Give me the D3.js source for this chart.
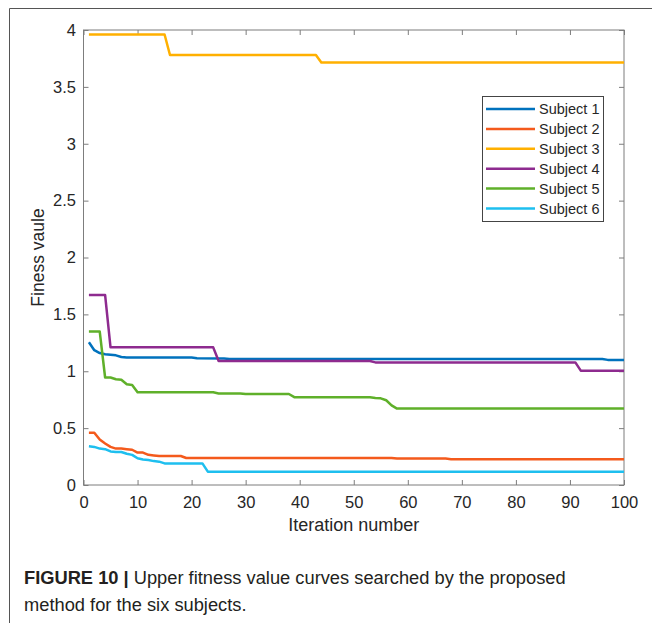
<!DOCTYPE html>
<html>
<head>
<meta charset="utf-8">
<script src="https://cdn.jsdelivr.net/npm/d3@7"></script>
<style>
  html, body { margin: 0; padding: 0; background: #fff; }
  svg { display: block; font-family: "Liberation Sans", Arial, Helvetica, sans-serif; }
</style>
</head>
<body>
<svg id="chart" width="652" height="623"></svg>
<script>
// Upper fitness value per iteration; each list holds [iteration, value] points
// where the curve changes (flat between consecutive points).
const subjectNames = ["Subject 1", "Subject 2", "Subject 3", "Subject 4", "Subject 5", "Subject 6"];
const subjectColors = ["#0072BD", "#F45A1C", "#FFB000", "#8E2B8F", "#5FB02A", "#1EBFEF"];

const subject1 = [[1,1.255],[2,1.185],[3,1.16],[4,1.15],[5,1.145],[6,1.14],[7,1.125],[8,1.12],[20,1.12],[21,1.115],[26,1.112],[27,1.108],[96,1.108],[97,1.10],[100,1.10]];
const subject2 = [[1,0.46],[2,0.46],[3,0.40],[4,0.365],[5,0.335],[6,0.32],[7,0.32],[8,0.315],[9,0.31],[10,0.285],[11,0.285],[12,0.265],[13,0.26],[14,0.255],[18,0.255],[19,0.237],[57,0.237],[58,0.232],[67,0.232],[68,0.227],[100,0.227]];
const subject3 = [[1,3.96],[15,3.96],[16,3.78],[43,3.78],[44,3.715],[100,3.715]];
const subject4 = [[1,1.67],[4,1.67],[5,1.21],[24,1.21],[25,1.09],[53,1.09],[54,1.078],[91,1.078],[92,1.005],[100,1.005]];
const subject5 = [[1,1.35],[3,1.35],[4,0.945],[5,0.945],[6,0.93],[7,0.925],[8,0.885],[9,0.88],[10,0.815],[24,0.815],[25,0.805],[29,0.805],[30,0.80],[38,0.80],[39,0.772],[53,0.772],[54,0.765],[55,0.762],[56,0.745],[57,0.70],[58,0.672],[100,0.672]];
const subject6 = [[1,0.34],[2,0.335],[3,0.32],[4,0.315],[5,0.295],[6,0.29],[7,0.29],[8,0.275],[9,0.265],[10,0.235],[11,0.225],[12,0.22],[13,0.21],[14,0.205],[15,0.19],[22,0.19],[23,0.117],[100,0.117]];

const xTicks = [0, 10, 20, 30, 40, 50, 60, 70, 80, 90, 100];
const yTicks = [0, 0.5, 1, 1.5, 2, 2.5, 3, 3.5, 4];

const series = [subject1, subject2, subject3, subject4, subject5, subject6];

const svg = d3.select("#chart");
const W = 652, H = 623;
const plot = { left: 83.5, right: 624, top: 30, bottom: 485 };

svg.append("rect").attr("width", W).attr("height", H).attr("fill", "#fff");

// Figure frame (top and left rules)
svg.append("path")
  .attr("d", `M9.5,${H} V8.5 H${W}`)
  .attr("fill", "none").attr("stroke", "#555").attr("stroke-width", 1);

const x = d3.scaleLinear().domain([0, 100]).range([plot.left, plot.right]);
const y = d3.scaleLinear().domain([0, 4]).range([plot.bottom, plot.top]);

const axisColor = "#7d7d7d";
const labelColor = "#262626";

function styleAxis(g) {
  g.select(".domain").remove();
  g.selectAll(".tick line").attr("stroke", axisColor).attr("stroke-width", 1);
  g.selectAll(".tick text").attr("fill", labelColor).attr("font-size", 16.5)
    .attr("font-family", "'Liberation Sans', Arial, Helvetica, sans-serif");
}

svg.append("g").attr("transform", `translate(0,${plot.bottom})`)
  .call(d3.axisBottom(x).tickValues(xTicks).tickSizeInner(-5).tickSizeOuter(0).tickPadding(11.2))
  .call(styleAxis);
svg.append("g").attr("transform", `translate(0,${plot.top})`)
  .call(d3.axisTop(x).tickValues(xTicks).tickSizeInner(-5).tickSizeOuter(0).tickFormat(""))
  .call(styleAxis);
svg.append("g").attr("transform", `translate(${plot.left},0)`)
  .call(d3.axisLeft(y).tickValues(yTicks).tickSizeInner(-5).tickSizeOuter(0).tickPadding(7.5).tickFormat(d3.format("")))
  .call(styleAxis);
svg.append("g").attr("transform", `translate(${plot.right},0)`)
  .call(d3.axisRight(y).tickValues(yTicks).tickSizeInner(-5).tickSizeOuter(0).tickFormat(""))
  .call(styleAxis);

// Axes box
svg.append("rect")
  .attr("x", plot.left).attr("y", plot.top)
  .attr("width", plot.right - plot.left).attr("height", plot.bottom - plot.top)
  .attr("fill", "none").attr("stroke", axisColor).attr("stroke-width", 1);

// Curves
const line = d3.line().x(d => x(d[0])).y(d => y(d[1]));
svg.append("g").selectAll("path").data(series).join("path")
  .attr("d", line)
  .attr("fill", "none")
  .attr("stroke", (d, i) => subjectColors[i])
  .attr("stroke-width", 2.5)
  .attr("stroke-linejoin", "round");

// Axis titles
svg.append("text")
  .attr("x", (plot.left + plot.right) / 2).attr("y", 531)
  .attr("text-anchor", "middle").attr("font-size", 18).attr("fill", labelColor)
  .text("Iteration number");
svg.append("text")
  .attr("transform", `translate(44,${(plot.top + plot.bottom) / 2}) rotate(-90)`)
  .attr("text-anchor", "middle").attr("font-size", 17.5).attr("fill", labelColor)
  .text("Finess vaule");

// Legend
const legend = svg.append("g");
legend.append("rect")
  .attr("x", 482.5).attr("y", 96.5).attr("width", 121).attr("height", 125)
  .attr("fill", "#fff").attr("stroke", "#444").attr("stroke-width", 1);
const items = legend.selectAll("g.item").data(subjectNames).join("g")
  .attr("class", "item")
  .attr("transform", (d, i) => `translate(0,${109 + i * 19.9})`);
items.append("line")
  .attr("x1", 486).attr("x2", 535).attr("y1", 0).attr("y2", 0)
  .attr("stroke", (d, i) => subjectColors[i]).attr("stroke-width", 2.5);
items.append("text")
  .attr("x", 539).attr("y", 5.2).attr("font-size", 14.5).attr("fill", labelColor)
  .text(d => d);

// Caption
const cap = svg.append("g").attr("fill", "#231f20").attr("font-size", 18.3);
const l1 = cap.append("text").attr("x", 24).attr("y", 584);
l1.append("tspan").attr("font-weight", "bold").text("FIGURE 10 |");
l1.append("tspan").text(" Upper fitness value curves searched by the proposed");
cap.append("text").attr("x", 24).attr("y", 611).text("method for the six subjects.");
</script>
</body>
</html>
